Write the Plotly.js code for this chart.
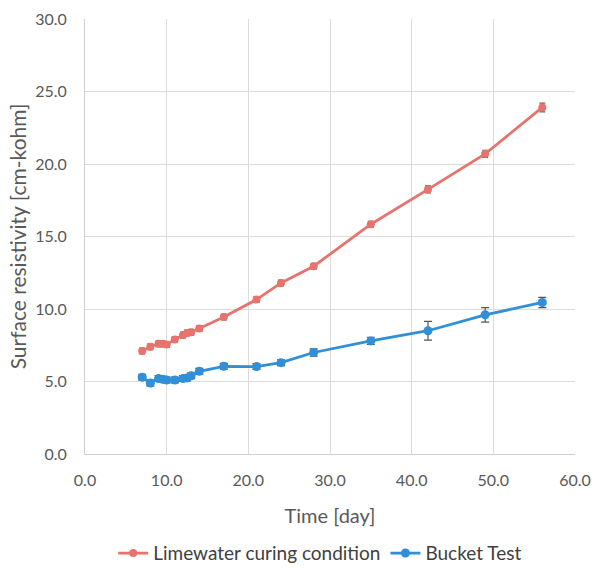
<!DOCTYPE html>
<html>
<head>
<meta charset="utf-8">
<script src="https://cdn.plot.ly/plotly-3.0.1.min.js"></script>
<style>
  html, body { margin: 0; padding: 0; background: #fff; }
  #chart { width: 595px; height: 578px; }
</style>
</head>
<body>
<div id="chart"></div>
<script>
// Curing age in days
const days = [7, 8, 9, 9.5, 10, 11, 12, 12.5, 13, 14, 17, 21, 24, 28, 35, 42, 49, 56];

// Surface resistivity [cm-kohm], limewater-cured specimens
const limewater = [7.1, 7.4, 7.6, 7.6, 7.55, 7.9, 8.2, 8.35, 8.4, 8.65, 9.45, 10.65, 11.8, 12.95, 15.85, 18.25, 20.7, 23.9];
const limewaterErr = [0.2, 0.2, 0.2, 0.2, 0.2, 0.2, 0.2, 0.2, 0.2, 0.2, 0.2, 0.2, 0.2, 0.2, 0.2, 0.25, 0.25, 0.3];

// Surface resistivity [cm-kohm], bucket test specimens
const bucket = [5.3, 4.9, 5.2, 5.15, 5.1, 5.1, 5.2, 5.25, 5.4, 5.7, 6.05, 6.03, 6.3, 7.0, 7.8, 8.5, 9.6, 10.45];
const bucketErr = [0.2, 0.2, 0.2, 0.2, 0.2, 0.2, 0.2, 0.2, 0.2, 0.2, 0.2, 0.2, 0.2, 0.25, 0.25, 0.65, 0.5, 0.35];

const xTicks = [0, 10, 20, 30, 40, 50, 60];
const yTicks = [0, 5, 10, 15, 20, 25, 30];

const fontFamily = 'Lato, "Open Sans", sans-serif';
const red = '#E8736D';
const blue = '#2F8FD8';

const traces = [
  {
    x: days, y: limewater, name: 'Limewater curing condition',
    type: 'scatter', mode: 'lines+markers',
    line: { color: red, width: 2.8 },
    marker: { color: red, size: 8 },
    error_y: { type: 'data', array: limewaterErr, visible: true, color: '#666', thickness: 1.2, width: 3 }
  },
  {
    x: days, y: bucket, name: 'Bucket Test',
    type: 'scatter', mode: 'lines+markers',
    line: { color: blue, width: 2.8 },
    marker: { color: blue, size: 9 },
    error_y: { type: 'data', array: bucketErr, visible: true, color: '#555', thickness: 1.2, width: 4 }
  }
];

const layout = {
  width: 595, height: 578,
  margin: { l: 85, r: 20, t: 19, b: 124, autoexpand: false },
  paper_bgcolor: '#fff', plot_bgcolor: '#fff',
  font: { family: fontFamily, color: '#595959', size: 16 },
  showlegend: true,
  legend: {
    orientation: 'h', x: 0.48, xanchor: 'center', y: -0.228, yanchor: 'middle',
    font: { size: 19, color: '#404040' }
  },
  xaxis: {
    range: [0, 60], tickvals: xTicks, ticktext: xTicks.map(v => v.toFixed(1)),
    showgrid: true, gridcolor: '#dcdcdc', gridwidth: 1,
    zeroline: false, showline: true, linecolor: '#cfcfcf', linewidth: 1,
    ticks: '', ticklabelstandoff: 12,
    tickfont: { size: 16, color: '#595959' },
    title: { text: 'Time [day]', font: { size: 20, color: '#595959' }, standoff: 20 }
  },
  yaxis: {
    range: [0, 30], tickvals: yTicks, ticktext: yTicks.map(v => v.toFixed(1)),
    showgrid: true, gridcolor: '#dcdcdc', gridwidth: 1,
    zeroline: false, showline: true, linecolor: '#cfcfcf', linewidth: 1,
    ticks: '', ticklabelstandoff: 14,
    tickfont: { size: 16, color: '#595959' },
    title: { text: 'Surface resistivity [cm-kohm]', font: { size: 21, color: '#595959' }, standoff: 2 }
  }
};

Plotly.newPlot('chart', traces, layout, { displayModeBar: false, staticPlot: true });
</script>
</body>
</html>
